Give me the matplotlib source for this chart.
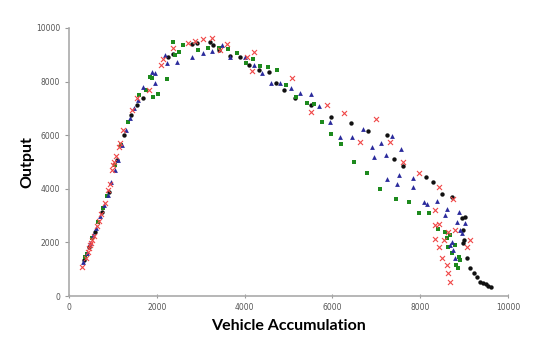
import matplotlib.pyplot as plt

# vehicle accumulation (x) and output (y) for each of the four runs
red_x = [300, 390, 430, 460, 480, 500, 520, 570, 640, 680, 730, 820, 890, 930, 980, 1000, 1030, 1070,
         1140, 1160, 1230, 1440, 1550, 1820, 2100, 2140, 2370, 2710, 2870, 3050, 3260, 3440, 3600, 4050,
         4210, 4170, 5080, 5880, 5510, 6260, 6990, 6630, 7310, 7610, 7970, 8430, 8750, 8340, 8340, 8430,
         8790, 8630, 8340, 8430, 8500, 8610, 8630, 8680, 9130, 9070, 8540]
red_y = [1080, 1420, 1640, 1790, 1900, 1980, 2090, 2240, 2610, 2800, 3060, 3470, 3960, 4180, 4700, 4890, 5000, 5220,
         5560, 5710, 6190, 6940, 7390, 7690, 8620, 8840, 9250, 9440, 9510, 9590, 9630, 9180, 9400, 8920,
         9100, 8400, 8130, 7130, 6870, 6830, 6600, 5750, 5750, 5000, 4590, 4070, 3620, 3210, 2650, 2690,
         2460, 2390, 2130, 1830, 1420, 1160, 860, 520, 2090, 1830, 2090]

blue_x = [320, 410, 480, 550, 620, 710, 800, 890, 960, 1050, 1120, 1210, 1300, 1390, 1480, 1570, 1690,
          1890, 1960, 1960, 2190, 2230, 2460, 2800, 3050, 3260, 3490, 3670, 4010, 4210, 4400, 4600, 4810,
          5060, 5260, 5510, 5700, 5950, 6170, 6450, 6700, 6900, 6950, 7110, 7220, 7360, 7560, 7520, 7240,
          7470, 7840, 7840, 8090, 8160, 8380, 8570, 8610, 8840, 8910, 9020, 8720, 8750, 8950, 8790, 8680, 8880]
blue_y = [1270, 1600, 1980, 2280, 2540, 2990, 3400, 3770, 4250, 4700, 5070, 5630, 6190, 6640, 7010, 7310, 7800,
          8360, 8320, 7950, 8990, 8690, 8730, 8920, 9070, 9140, 9370, 8920, 8920, 8620, 8320, 7950, 7950,
          7760, 7570, 7540, 7090, 6490, 5930, 5930, 6230, 5560, 5190, 5710, 5260, 5970, 5490, 4510, 4370,
          4180, 4400, 4070, 3510, 3430, 3540, 3020, 3250, 2760, 2460, 2720, 2010, 1720, 2350, 1420, 1900, 3130]

green_x = [360, 410, 520, 660, 770, 870, 1050, 1180, 1340, 1590, 1750, 1850, 1890, 1910, 2030, 2230, 2370,
           2410, 2510, 2600, 2940, 3170, 3420, 3620, 3830, 4030, 4190, 4350, 4530, 4740, 4940, 5170, 5420,
           5580, 5760, 5970, 6200, 6490, 6790, 7080, 7450, 7740, 7970, 8200, 8410, 8610, 8680, 8630, 8720,
           8820, 8860, 8880, 8910, 8570, 8790]
green_y = [1460, 1570, 2160, 2760, 3280, 3730, 4890, 5630, 6490, 7500, 7690, 8170, 8130, 7430, 7540, 8100, 9480,
           8990, 9100, 9370, 9180, 9250, 9250, 9220, 9070, 8690, 8840, 8580, 8540, 8430, 7870, 7430, 7200,
           7160, 6490, 6040, 5670, 5000, 4590, 3990, 3620, 3510, 3100, 3100, 2500, 2160, 2280, 1830, 1600,
           1160, 1040, 1460, 1340, 2390, 1900]

black_x = [340, 460, 590, 750, 910, 1090, 1250, 1410, 1550, 1690, 2260, 2370, 2800, 2920, 3210, 3280, 3420,
           3670, 3900, 4100, 4330, 4560, 4720, 4900, 5150, 5510, 5970, 6420, 6810, 7240, 7400, 7610, 8130,
           8290, 8500, 8720, 8950, 9020, 9000, 8980, 9070, 9130, 9230, 9290, 9430, 9540, 9610, 9500, 9360, 8970]
black_y = [1340, 1830, 2390, 3130, 3880, 5070, 6010, 6750, 7130, 7390, 8920, 9030, 9400, 9440, 9480, 9370, 9180,
           8960, 8920, 8620, 8430, 8360, 7950, 7690, 7390, 7130, 6680, 6460, 6160, 6010, 5110, 4850, 4440,
           4250, 3810, 3690, 2910, 2950, 2090, 1980, 1420, 1040, 860, 710, 490, 370, 340, 450, 520, 2460]

fig = plt.figure(figsize=(5.37, 3.45), dpi=100)
ax = fig.add_axes([0.1285, 0.142, 0.8175, 0.777])

ax.scatter(black_x, black_y, marker='o', s=10, color='#111111', linewidths=0, zorder=3)
ax.scatter(green_x, green_y, marker='s', s=10, color='#1d8a1d', linewidths=0, zorder=3)
ax.scatter(blue_x, blue_y, marker='^', s=12, color='#2b2b9c', linewidths=0, zorder=3)
ax.scatter(red_x, red_y, marker='x', s=13, color='#f04848', linewidths=0.8, zorder=4)

ax.set_xlim(0, 10000)
ax.set_ylim(0, 10000)
ax.set_xticks(range(0, 10001, 2000))
ax.set_yticks(range(0, 10001, 2000))
ax.tick_params(labelsize=5.5, labelcolor='#555555', color='#999999', length=3, width=0.8)
ax.tick_params(axis='x', direction='inout')

for s in ['top', 'right']:
    ax.spines[s].set_visible(False)
for s in ['left', 'bottom']:
    ax.spines[s].set_color('#aaaaaa')
    ax.spines[s].set_linewidth(1.2)

ax.set_xlabel('Vehicle Accumulation', fontsize=11.5, fontweight='bold', family='Lato', labelpad=5)
ax.set_ylabel('Output', fontsize=11.5, fontweight='bold', family='Lato')
ax.yaxis.set_label_coords(-0.078, 0.5)

plt.savefig('out.png', dpi=100)
